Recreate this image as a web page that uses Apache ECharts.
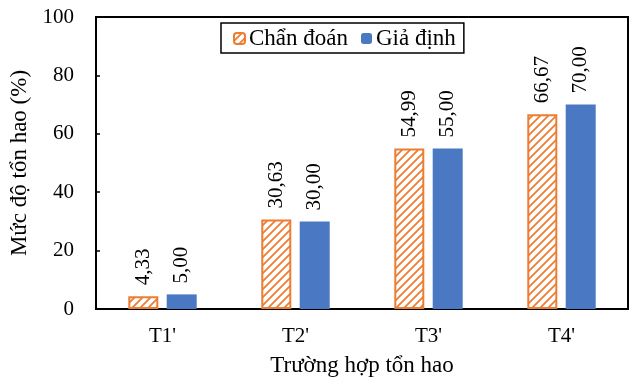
<!DOCTYPE html>
<html>
<head>
<meta charset="utf-8">
<script src="https://cdn.jsdelivr.net/npm/echarts@6/dist/echarts.min.js"></script>
<style>
  html, body { margin: 0; padding: 0; background: #fff; }
  #chart { width: 633px; height: 381px; }
</style>
</head>
<body>
<div id="chart"></div>
<script>
  var categories = ["T1'", "T2'", "T3'", "T4'"]
  var chanDoan = [4.33, 30.63, 54.99, 66.67]
  var giaDinh = [5.00, 30.00, 55.00, 70.00]
  var yTicks = [0, 20, 40, 60, 80, 100]

  var font = 'Liberation Serif'

  // hatch pattern for the orange series
  function makeHatch() {
    var c = document.createElement('canvas')
    c.width = 8
    c.height = 8
    var ctx = c.getContext('2d')
    ctx.fillStyle = '#fff'
    ctx.fillRect(0, 0, 8, 8)
    ctx.strokeStyle = '#ED7D31'
    ctx.lineWidth = 1.8
    ctx.beginPath()
    ctx.moveTo(-2, 10); ctx.lineTo(10, -2)
    ctx.moveTo(-6, 6); ctx.lineTo(6, -6)
    ctx.moveTo(2, 14); ctx.lineTo(14, 2)
    ctx.stroke()
    return c
  }

  function fmt(p) {
    return p.value.toFixed(2).replace('.', ',')
  }

  var labelOpt = {
    show: true,
    position: 'top',
    rotate: 90,
    align: 'left',
    verticalAlign: 'middle',
    distance: 11,
    fontFamily: font,
    fontSize: 21,
    color: '#000',
    formatter: fmt
  }

  var chart = echarts.init(document.getElementById('chart'))
  chart.setOption({
    animation: false,
    textStyle: { fontFamily: font },
    grid: {
      left: 96,
      right: 5,
      top: 17,
      bottom: 72,
      outerBoundsMode: 'none',
      containLabel: false,
      show: true,
      borderColor: '#000',
      borderWidth: 2
    },
    legend: {
      top: 23,
      left: 221,
      padding: [4, 8, 3, 12],
      borderColor: '#000',
      borderWidth: 1.5,
      itemWidth: 11,
      itemHeight: 11,
      itemGap: 13,
      textStyle: { fontFamily: font, fontSize: 23, color: '#000', padding: [0, 0, 0, -1] },
      data: ['Chẩn đoán', 'Giả định']
    },
    xAxis: {
      type: 'category',
      data: categories,
      name: 'Trường hợp tổn hao',
      nameLocation: 'middle',
      nameGap: 45,
      nameTextStyle: { fontFamily: font, fontSize: 23, color: '#000' },
      axisLine: { lineStyle: { color: '#000', width: 2 } },
      axisTick: { inside: true, alignWithLabel: true, length: 4, lineStyle: { color: '#000', width: 1.5 } },
      axisLabel: { fontFamily: font, fontSize: 21, color: '#000', margin: 17 }
    },
    yAxis: {
      type: 'value',
      min: yTicks[0],
      max: yTicks[yTicks.length - 1],
      interval: yTicks[1] - yTicks[0],
      name: 'Mức độ tổn hao (%)',
      nameLocation: 'middle',
      nameGap: 64,
      nameTextStyle: { fontFamily: font, fontSize: 23, color: '#000' },
      axisLine: { show: true, lineStyle: { color: '#000', width: 2 } },
      axisTick: { show: true, inside: true, length: 4, lineStyle: { color: '#000', width: 1.5 } },
      splitLine: { show: false },
      axisLabel: { fontFamily: font, fontSize: 21, color: '#000', margin: 22 }
    },
    series: [
      {
        name: 'Chẩn đoán',
        type: 'bar',
        data: chanDoan,
        barWidth: 30,
        barGap: '28%',
        itemStyle: {
          color: { image: makeHatch(), repeat: 'repeat' },
          borderColor: '#ED7D31',
          borderWidth: 2
        },
        label: labelOpt
      },
      {
        name: 'Giả định',
        type: 'bar',
        data: giaDinh,
        barWidth: 30,
        itemStyle: { color: '#4A78C2' },
        label: labelOpt
      }
    ]
  })
</script>
</body>
</html>
